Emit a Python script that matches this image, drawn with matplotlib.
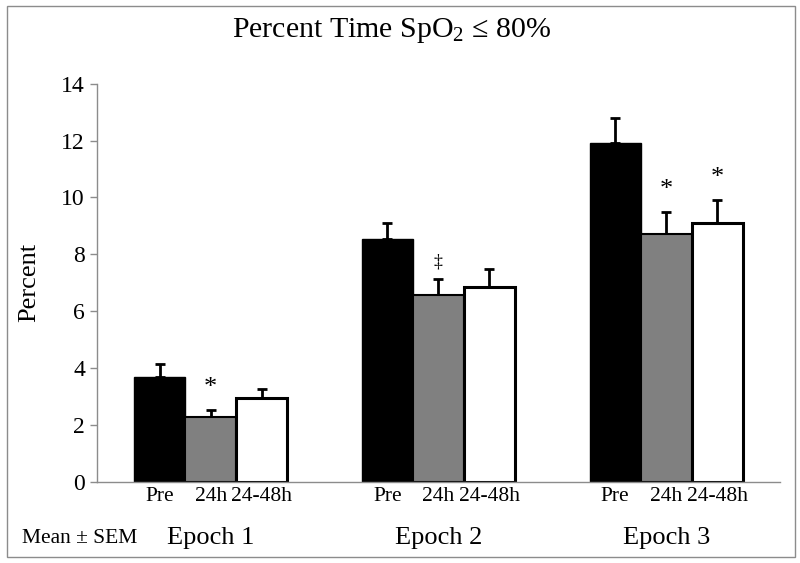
import matplotlib
matplotlib.use("Agg")
import matplotlib.pyplot as plt
import matplotlib.transforms as mtransforms
from matplotlib.patches import Rectangle
import numpy as np

plt.rcParams['font.family'] = ['Liberation Serif', 'DejaVu Serif']
plt.rcParams['mathtext.fontset'] = 'custom'
plt.rcParams['mathtext.rm'] = 'Liberation Serif'
plt.rcParams['mathtext.it'] = 'Liberation Serif:italic'

# data (mean and SEM, percent)
epochs = ['Epoch 1', 'Epoch 2', 'Epoch 3']
conditions = ['Pre', '24h', '24-48h']
pre_mean = [3.69, 8.53, 11.92]
pre_sem = [0.44, 0.58, 0.87]
h24_mean = [2.29, 6.57, 8.70]
h24_sem = [0.23, 0.55, 0.80]
h2448_mean = [2.93, 6.86, 9.11]
h2448_sem = [0.33, 0.61, 0.80]
# significance marks: (condition index, epoch index, symbol)
marks = [(1, 0, '*'), (1, 1, '\u2021'), (1, 2, '*'), (2, 2, '*')]

means = [pre_mean, h24_mean, h2448_mean]
sems = [pre_sem, h24_sem, h2448_sem]
fills = ['black', '#808080', 'white']
edge_w = [1.0, 1.5, 2.2]

fig = plt.figure(figsize=(8, 5.63), dpi=100)
fig.patches.append(Rectangle((0.009, 0.011), 0.985, 0.978, transform=fig.transFigure,
                             fill=False, edgecolor='#8c8c8c', linewidth=1.0))
ax = fig.add_axes([0.121, 0.1444, 0.854, 0.7069])

x = np.arange(len(epochs))
width = 0.224
tick_pos = []
tick_lab = []
for i, cond in enumerate(conditions):
    pos = x + (i - 1) * width
    ax.bar(pos, means[i], width, color=fills[i], edgecolor='black',
           linewidth=edge_w[i], zorder=2)
    ax.errorbar(pos, means[i], yerr=[np.zeros(len(epochs)), sems[i]],
                fmt='none', ecolor='black', elinewidth=2, capsize=3.5,
                capthick=2, zorder=1)
    tick_pos.extend(pos)
    tick_lab.extend([cond] * len(epochs))

for ci, ei, sym in marks:
    top = means[ci][ei] + sems[ci][ei]
    if sym == '*':
        ax.text(x[ei] + (ci - 1) * width, top + 0.38, sym, ha='center', va='bottom',
                fontsize=19)
    else:
        ax.text(x[ei] + (ci - 1) * width, top + 0.3, sym, ha='center', va='bottom',
                fontsize=13)

ax.set_xlim(-0.5, 2.5)
ax.set_ylim(0, 14)
ax.set_yticks(np.arange(0, 15, 2))
ax.tick_params(axis='y', labelsize=17, direction='out', length=5, color='#8c8c8c', width=1)
ax.set_xticks(tick_pos)
ax.set_xticklabels(tick_lab, fontsize=15.5)
ax.tick_params(axis='x', length=0, pad=4)
for s in ['top', 'right']:
    ax.spines[s].set_visible(False)
for s in ['left', 'bottom']:
    ax.spines[s].set_color('#8c8c8c')
    ax.spines[s].set_linewidth(1.0)
ax.set_ylabel('Percent', fontsize=19, labelpad=15)

trans = mtransforms.blended_transform_factory(ax.transData, fig.transFigure)
for xi, name in zip(x, epochs):
    ax.text(xi, 0.044, name, transform=trans, ha='center', va='center', fontsize=19)
fig.text(0.027, 0.044, 'Mean \u00b1 SEM', ha='left', va='center', fontsize=15.5)

fig.text(0.489, 0.945, 'Percent Time SpO$_2$ \u2264 80%', ha='center', va='center', fontsize=21.5)

fig.savefig('out.png', dpi=100)
